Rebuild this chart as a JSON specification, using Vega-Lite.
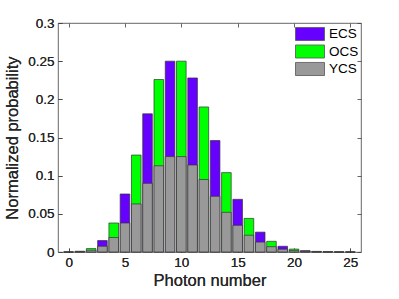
{
  "$schema": "https://vega.github.io/schema/vega-lite/v6.json",
  "autosize": {"type": "none"},
  "width": 303,
  "height": 229,
  "padding": {"left": 58, "top": 23, "right": 38, "bottom": 47},
  "background": "white",
  "config": {
    "view": {"stroke": "#404040", "strokeWidth": 0.8},
    "font": "Liberation Sans",
    "axis": {
      "grid": false,
      "domain": false,
      "tickColor": "#404040",
      "tickWidth": 0.8,
      "tickSize": -4,
      "labelFont": "Liberation Sans",
      "labelFontSize": 13.5,
      "labelColor": "#262626",
      "titleFont": "Liberation Sans",
      "titleFontSize": 16.5,
      "titleFontWeight": "normal",
      "titleColor": "#262626"
    },
    "legend": {
      "labelFont": "Liberation Sans",
      "labelFontSize": 13.5,
      "labelColor": "#000000"
    }
  },
  "data": {
    "values": [
      {"n": 1, "series": "ECS", "p": 0.001},
      {"n": 3, "series": "ECS", "p": 0.015},
      {"n": 5, "series": "ECS", "p": 0.076},
      {"n": 7, "series": "ECS", "p": 0.181},
      {"n": 9, "series": "ECS", "p": 0.25},
      {"n": 11, "series": "ECS", "p": 0.228},
      {"n": 13, "series": "ECS", "p": 0.146},
      {"n": 15, "series": "ECS", "p": 0.069},
      {"n": 17, "series": "ECS", "p": 0.026},
      {"n": 19, "series": "ECS", "p": 0.0075},
      {"n": 21, "series": "ECS", "p": 0.0018},
      {"n": 23, "series": "ECS", "p": 0.0003},
      {"n": 25, "series": "ECS", "p": 0.00005},
      {"n": 0, "series": "OCS", "p": 0.0001},
      {"n": 2, "series": "OCS", "p": 0.0045},
      {"n": 4, "series": "OCS", "p": 0.038},
      {"n": 6, "series": "OCS", "p": 0.127},
      {"n": 8, "series": "OCS", "p": 0.226},
      {"n": 10, "series": "OCS", "p": 0.25},
      {"n": 12, "series": "OCS", "p": 0.19},
      {"n": 14, "series": "OCS", "p": 0.104},
      {"n": 16, "series": "OCS", "p": 0.044},
      {"n": 18, "series": "OCS", "p": 0.014},
      {"n": 20, "series": "OCS", "p": 0.0038},
      {"n": 22, "series": "OCS", "p": 0.0008},
      {"n": 24, "series": "OCS", "p": 0.00014},
      {"n": 0, "series": "YCS", "p": 0.00005},
      {"n": 1, "series": "YCS", "p": 0.0005},
      {"n": 2, "series": "YCS", "p": 0.0023},
      {"n": 3, "series": "YCS", "p": 0.0076},
      {"n": 4, "series": "YCS", "p": 0.019},
      {"n": 5, "series": "YCS", "p": 0.038},
      {"n": 6, "series": "YCS", "p": 0.063},
      {"n": 7, "series": "YCS", "p": 0.09},
      {"n": 8, "series": "YCS", "p": 0.113},
      {"n": 9, "series": "YCS", "p": 0.125},
      {"n": 10, "series": "YCS", "p": 0.125},
      {"n": 11, "series": "YCS", "p": 0.114},
      {"n": 12, "series": "YCS", "p": 0.095},
      {"n": 13, "series": "YCS", "p": 0.073},
      {"n": 14, "series": "YCS", "p": 0.052},
      {"n": 15, "series": "YCS", "p": 0.035},
      {"n": 16, "series": "YCS", "p": 0.022},
      {"n": 17, "series": "YCS", "p": 0.013},
      {"n": 18, "series": "YCS", "p": 0.007},
      {"n": 19, "series": "YCS", "p": 0.0037},
      {"n": 20, "series": "YCS", "p": 0.0019},
      {"n": 21, "series": "YCS", "p": 0.0009},
      {"n": 22, "series": "YCS", "p": 0.0004},
      {"n": 23, "series": "YCS", "p": 0.0002},
      {"n": 24, "series": "YCS", "p": 0.0001},
      {"n": 25, "series": "YCS", "p": 0.00003}
    ]
  },
  "encoding": {
    "x": {
      "field": "n",
      "type": "quantitative",
      "scale": {"domain": [-0.5, 25.5], "nice": false, "zero": false},
      "axis": {"title": "Photon number", "values": [0, 5, 10, 15, 20, 25], "labelPadding": 7, "titlePadding": 4}
    },
    "y": {
      "field": "p",
      "type": "quantitative",
      "scale": {"domain": [0, 0.3], "nice": false},
      "axis": {"title": "Normalized probability", "values": [0, 0.05, 0.1, 0.15, 0.2, 0.25, 0.3], "format": "~g", "labelPadding": 8, "titlePadding": 7}
    },
    "color": {
      "field": "series",
      "type": "nominal",
      "scale": {"domain": ["ECS", "OCS", "YCS"], "range": ["#6600FF", "#00FF00", "#999999"]},
      "legend": {
        "title": null,
        "orient": "none",
        "legendX": 237,
        "legendY": 3,
        "symbolType": "M-1,-0.45H1V0.45H-1Z",
        "symbolSize": 841,
        "symbolStrokeColor": "#555555",
        "symbolStrokeWidth": 0.8,
        "symbolOpacity": 1,
        "clipHeight": 16,
        "rowPadding": 1.5,
        "labelOffset": 4
      }
    }
  },
  "layer": [
    {
      "transform": [{"filter": "datum.series === 'ECS'"}],
      "mark": {"type": "bar", "size": 9.6, "stroke": "#333333", "strokeWidth": 0.7, "opacity": 1}
    },
    {
      "transform": [{"filter": "datum.series === 'OCS'"}],
      "mark": {"type": "bar", "size": 9.6, "stroke": "#333333", "strokeWidth": 0.7, "opacity": 1},
      "encoding": {
        "x": {"field": "n", "type": "quantitative", "axis": {"orient": "top", "labels": false, "title": null, "values": [0, 5, 10, 15, 20, 25]}},
        "y": {"field": "p", "type": "quantitative", "axis": {"orient": "right", "labels": false, "title": null, "values": [0, 0.05, 0.1, 0.15, 0.2, 0.25, 0.3]}}
      }
    },
    {
      "transform": [{"filter": "datum.series === 'YCS'"}],
      "mark": {"type": "bar", "size": 9.6, "stroke": "#333333", "strokeWidth": 0.7, "opacity": 1}
    }
  ],
  "resolve": {"axis": {"x": "independent", "y": "independent"}}
}
